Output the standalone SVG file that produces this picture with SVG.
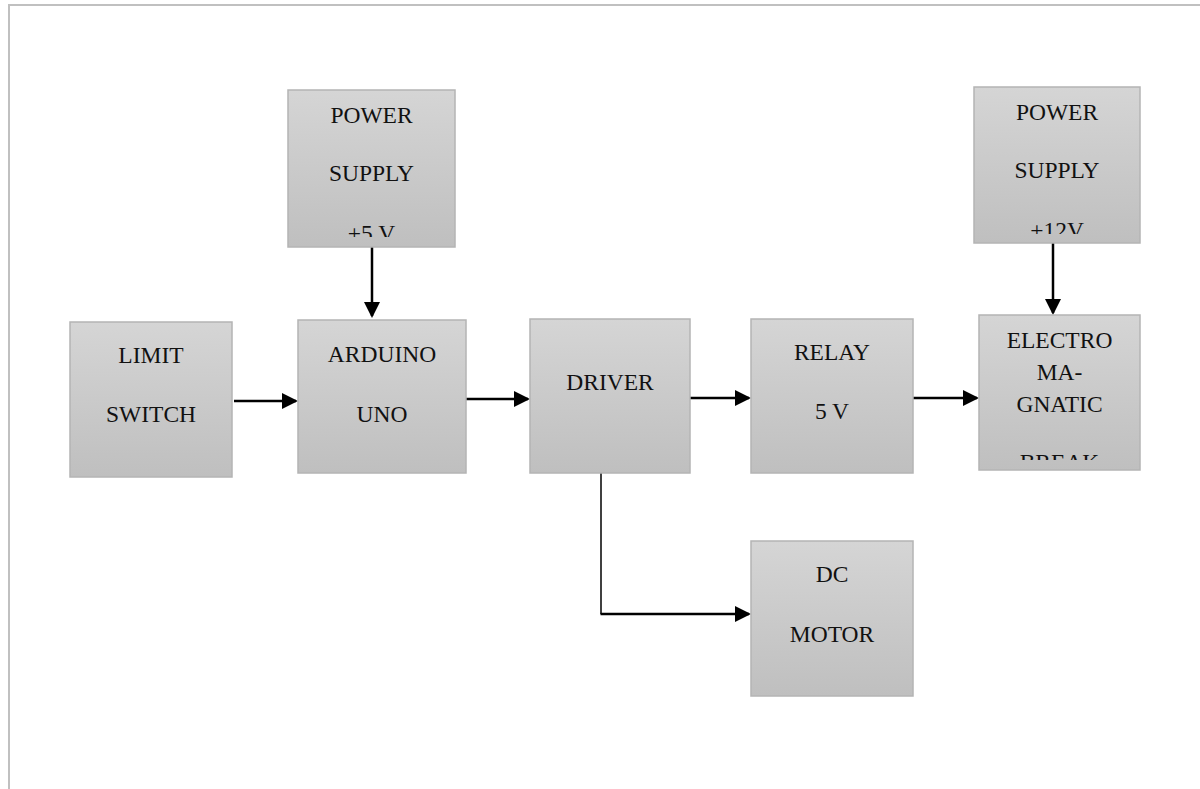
<svg xmlns="http://www.w3.org/2000/svg" width="1200" height="789" viewBox="0 0 1200 789">
<style>
.box{fill:url(#g);stroke:#b4b4b4;stroke-width:1.5}
.t{font-family:"Liberation Serif","Times New Roman",serif;font-size:23.5px;fill:#111;text-anchor:middle}
.c{stroke:#000;stroke-width:2.5;fill:none}
.thin{stroke:#000;stroke-width:1.5;fill:none}
.frame{stroke:#c0c0c0;stroke-width:2;fill:none}
</style>
<defs>
<linearGradient id="g" x1="0" y1="0" x2="0" y2="1">
<stop offset="0" stop-color="#d5d5d5"/>
<stop offset="1" stop-color="#bfbfbf"/>
</linearGradient>
<marker id="ah" markerUnits="userSpaceOnUse" markerWidth="16" markerHeight="16" refX="14" refY="8" orient="auto">
<path d="M0,0 L16,8 L0,16 Z" fill="#000"/>
</marker>
<clipPath id="cp5"><rect x="288" y="90" width="167" height="147"/></clipPath>
<clipPath id="cp12"><rect x="974" y="87" width="166" height="147"/></clipPath>
<clipPath id="cpe"><rect x="979" y="315" width="161" height="145"/></clipPath>
</defs>
<path class="frame" d="M9,789 V5 H1200"/>
<g id="connectors">
<line class="c" x1="372" y1="247" x2="372" y2="316" marker-end="url(#ah)"/>
<line class="c" x1="1053" y1="243" x2="1053" y2="313" marker-end="url(#ah)"/>
<line class="c" x1="234" y1="401" x2="296" y2="401" marker-end="url(#ah)"/>
<line class="c" x1="466" y1="399" x2="528" y2="399" marker-end="url(#ah)"/>
<line class="c" x1="690" y1="398" x2="749" y2="398" marker-end="url(#ah)"/>
<line class="c" x1="913" y1="398" x2="977" y2="398" marker-end="url(#ah)"/>
<line class="thin" x1="601" y1="473" x2="601" y2="614"/>
<line class="c" x1="600.5" y1="614" x2="749" y2="614" marker-end="url(#ah)"/>
</g>
<g id="ps5">
<rect class="box" x="288" y="90" width="167" height="157"/>
<g clip-path="url(#cp5)">
<text class="t" x="371.5" y="123">POWER</text>
<text class="t" x="371.5" y="181">SUPPLY</text>
<text class="t" x="371.5" y="241">+5 V</text>
</g>
</g>
<g id="ps12">
<rect class="box" x="974" y="87" width="166" height="156"/>
<g clip-path="url(#cp12)">
<text class="t" x="1057" y="120">POWER</text>
<text class="t" x="1057" y="178">SUPPLY</text>
<text class="t" x="1057" y="238">+12V</text>
</g>
</g>
<g id="limit">
<rect class="box" x="70" y="322" width="162" height="155"/>
<text class="t" x="151" y="363">LIMIT</text>
<text class="t" x="151" y="422">SWITCH</text>
</g>
<g id="arduino">
<rect class="box" x="298" y="320" width="168" height="153"/>
<text class="t" x="382" y="362">ARDUINO</text>
<text class="t" x="382" y="422">UNO</text>
</g>
<g id="driver">
<rect class="box" x="530" y="319" width="160" height="154"/>
<text class="t" x="610" y="390">DRIVER</text>
</g>
<g id="relay">
<rect class="box" x="751" y="319" width="162" height="154"/>
<text class="t" x="832" y="360">RELAY</text>
<text class="t" x="832" y="419">5 V</text>
</g>
<g id="electro">
<rect class="box" x="979" y="315" width="161" height="155"/>
<g clip-path="url(#cpe)">
<text class="t" x="1059.5" y="348">ELECTRO</text>
<text class="t" x="1059.5" y="380">MA-</text>
<text class="t" x="1059.5" y="412">GNATIC</text>
<text class="t" x="1059.5" y="470">BREAK</text>
</g>
</g>
<g id="motor">
<rect class="box" x="751" y="541" width="162" height="155"/>
<text class="t" x="832" y="582">DC</text>
<text class="t" x="832" y="642">MOTOR</text>
</g>
</svg>
